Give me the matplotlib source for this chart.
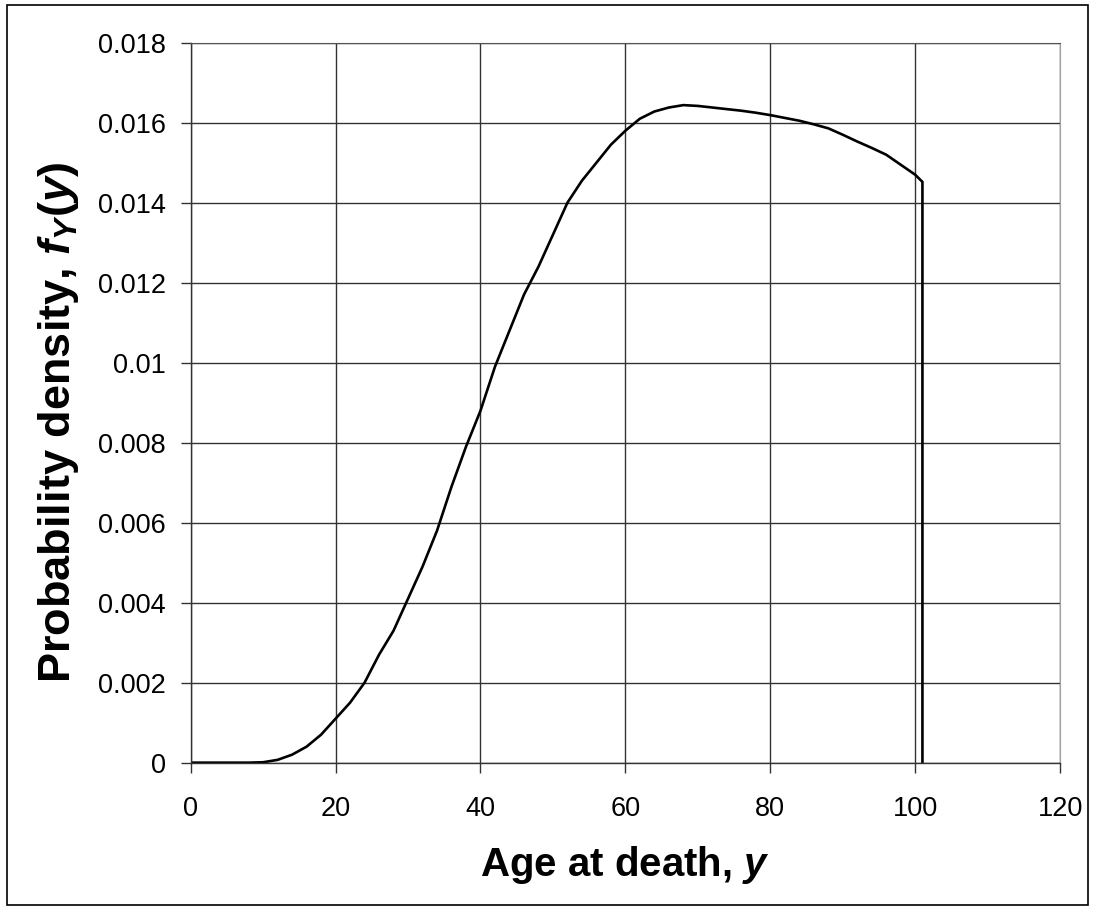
import matplotlib.pyplot as plt
from matplotlib.patches import Rectangle

plt.rcParams['font.family'] = ['Liberation Sans', 'DejaVu Sans']
plt.rcParams['mathtext.fontset'] = 'custom'
plt.rcParams['mathtext.rm'] = 'Liberation Sans:bold'
plt.rcParams['mathtext.it'] = 'Liberation Sans:bold:italic'
plt.rcParams['mathtext.bf'] = 'Liberation Sans:bold'

# density of age at death
ages = [0, 2, 4, 6, 8, 10, 12, 14, 16, 18, 20, 22, 24, 26, 28, 30, 32, 34, 36, 38,
        40, 42, 44, 46, 48, 50, 52, 54, 56, 58, 60, 62, 64, 66, 68, 70, 72, 74, 76, 78,
        80, 82, 84, 86, 88, 90, 92, 94, 96, 98, 100, 101, 101]
density = [0, 0, 0, 0, 0, 0.00001, 0.00007, 0.0002, 0.0004, 0.0007, 0.0011, 0.0015,
           0.002, 0.0027, 0.0033, 0.0041, 0.0049, 0.0058, 0.0069, 0.0079,
           0.0088, 0.0099, 0.0108, 0.0117, 0.0124, 0.0132, 0.0140, 0.01455, 0.0150, 0.01545,
           0.0158, 0.0161, 0.01628, 0.01638, 0.01644, 0.01642, 0.01638, 0.01634, 0.0163, 0.01625,
           0.01619, 0.01612, 0.01605, 0.01596, 0.01586, 0.0157, 0.01553, 0.01537, 0.0152, 0.01495,
           0.0147, 0.01452, 0]

xticks = [0, 20, 40, 60, 80, 100, 120]
yticks = [0, 0.002, 0.004, 0.006, 0.008, 0.01, 0.012, 0.014, 0.016, 0.018]
ytick_labels = ['0', '0.002', '0.004', '0.006', '0.008', '0.01', '0.012', '0.014', '0.016', '0.018']

fig = plt.figure(figsize=(10.94, 9.09), dpi=100)
ax = fig.add_axes([0.1743, 0.161, 0.7947, 0.792])

ax.plot(ages, density, color='black', linewidth=1.9, solid_joinstyle='miter')

ax.set_xlim(0, 120)
ax.set_ylim(0, 0.018)
ax.set_xticks(xticks)
ax.set_yticks(yticks)
ax.set_yticklabels(ytick_labels)
ax.grid(True, color='#333333', linewidth=1.0)
ax.set_axisbelow(True)

ax.tick_params(direction='out', length=7.2, width=1.0, color='#333333', labelsize=19.5)
ax.tick_params(axis='x', pad=17)
ax.tick_params(axis='y', pad=10.8)

for side in ['left', 'bottom']:
    ax.spines[side].set_color('#333333')
    ax.spines[side].set_linewidth(1.0)
ax.spines['top'].set_color('#555555')
ax.spines['right'].set_color('#a0a0a0')

ax.set_xlabel(r'Age at death, $y$', fontsize=29, fontweight='bold', labelpad=16)
ax.set_ylabel(r'Probability density, $f_Y(y)$', fontsize=32.5, fontweight='bold')
ax.yaxis.set_label_coords(-0.126, 0.472)

# outer frame round the whole chart
fig.patches.append(Rectangle((0.0064, 0.0044), 0.9882, 0.9901, transform=fig.transFigure,
                             fill=False, edgecolor='black', linewidth=1.2))

fig.savefig('out.png', dpi=100)
